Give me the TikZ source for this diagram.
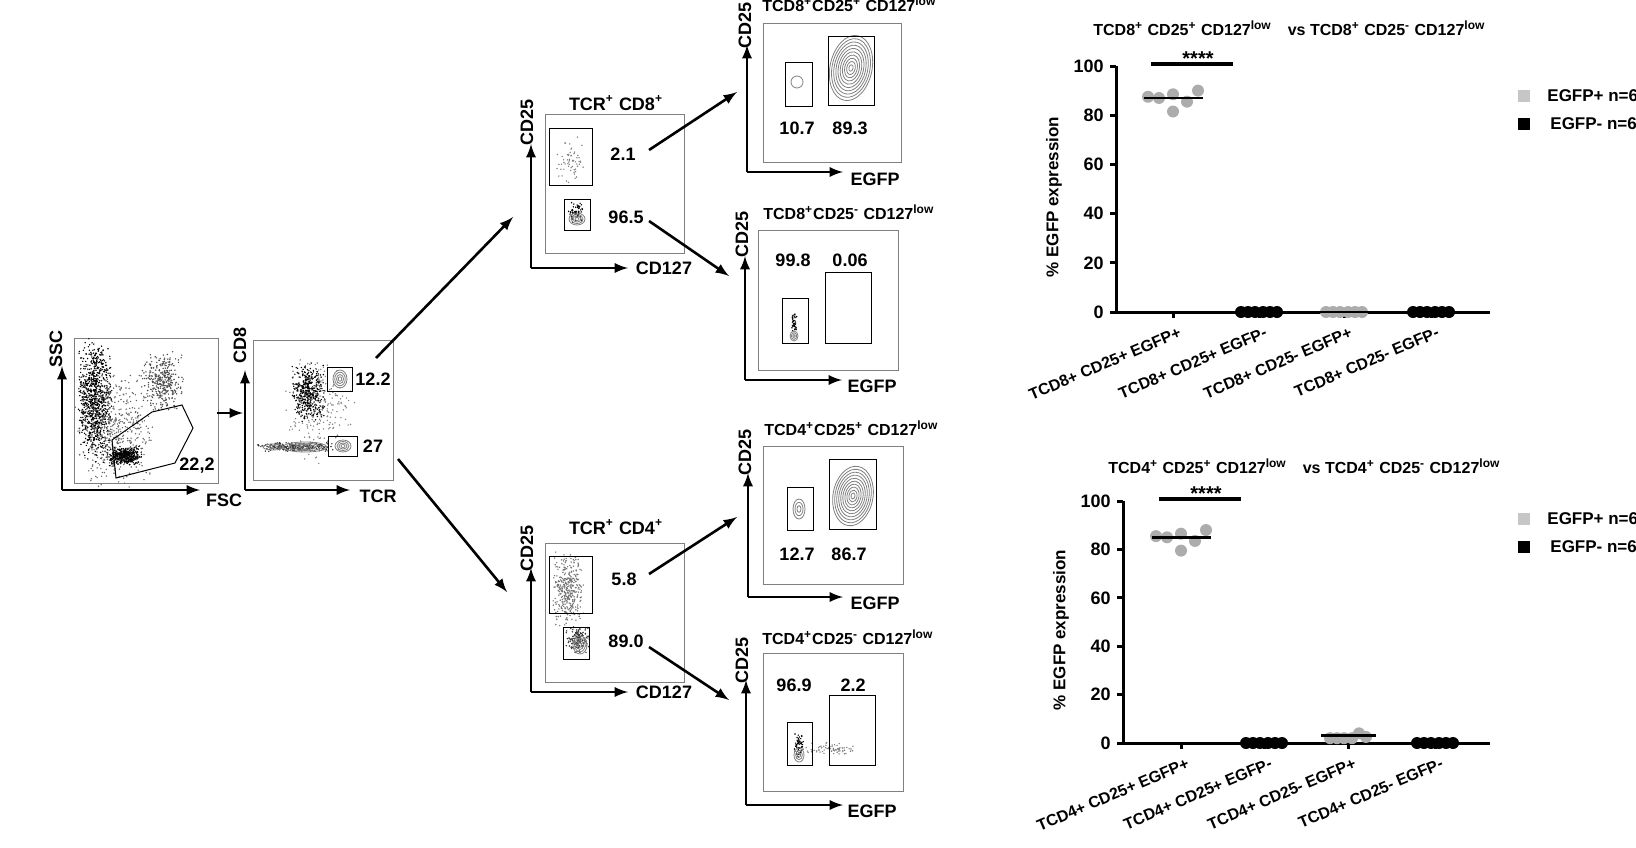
\documentclass[tikz,border=0pt]{standalone}
\usepackage{fontspec}
\setmainfont{Liberation Sans}
\begin{document}
\begin{tikzpicture}[x=0.5pt,y=-0.5pt,
  lab/.style={font=\bfseries\fontsize{9}{10}\selectfont,inner sep=1pt},
  ttl/.style={font=\bfseries\fontsize{8}{9}\selectfont,inner sep=1pt},
  ax/.style={line width=1.3pt,-latex},
  gate/.style={draw,line width=0.5pt},
  frame/.style={draw,gray,line width=0.5pt},
  flow/.style={line width=1.3pt,-latex},
  cax/.style={line width=1.5pt}]
\useasboundingbox (0,0) rectangle (1636,847);
\pgfmathsetseed{7}
\newcommand{\mycloud}[6]{%
  \foreach \i in {1,...,#5}{%
    \pgfmathsetmacro\dx{#3*(rand+rand)/2}%
    \pgfmathsetmacro\dy{#4*(rand+rand)/2}%
    \fill[#6] ({#1+\dx},{#2+\dy}) circle (0.8);}}
\newcommand{\mycont}[6]{%
  \foreach \s in {1,...,#6}{\draw[gray,line width=0.4pt,rotate around={#3:(#1,#2)}] (#1,#2) ellipse ({#4*\s/#6} and {#5*\s/#6});}}
% ---------- panel 1 SSC/FSC
\draw[frame] (74,338) rectangle (218,483);
\draw[ax] (62,490) -- (62,366);
\draw[ax] (62,490) -- (200,490);
\node[lab,rotate=90] (ssc) at (56,349) {SSC};
\node[lab] (fsc) at (224,500) {FSC};
\mycloud{95}{400}{18}{65}{900}{black}
\mycloud{115}{430}{40}{60}{500}{black!60}
\mycloud{125}{456}{18}{10}{400}{black}
\mycloud{162}{382}{22}{32}{350}{black!70}
\draw[gate] (116,478) -- (112,440) -- (152,412) -- (182,405) -- (193,428) -- (175,463) -- cycle;
\node[lab] (v1) at (197,466) {22,2};
\coordinate (a1s) at (217,413); \coordinate (a1e) at (243,413);
\draw[flow] (a1s) -- (a1e);
% ---------- panel 2 CD8/TCR
\draw[frame] (253,340) rectangle (393,480);
\draw[ax] (245,490) -- (245,370);
\draw[ax] (245,490) -- (350,490);
\node[lab,rotate=90] (cd8) at (240,345) {CD8};
\node[lab] (tcr) at (378,496) {TCR};
\mycloud{308}{392}{18}{30}{450}{black}
\mycloud{320}{410}{40}{55}{200}{black!50}
\mycloud{295}{447}{40}{5}{250}{black!80}
\mycont{305}{447}{0}{22}{5}{4}
\mycont{273}{447}{0}{10}{3}{2}
\mycont{340}{379}{0}{7}{9}{4}
\mycont{343}{446}{0}{8}{6}{4}
\draw[gate] (327,367) rectangle (352,391);
\draw[gate] (328,436) rectangle (357,456);
\node[lab] (v2) at (373,379) {12.2};
\node[lab] (v3) at (373,446) {27};
\coordinate (a2s) at (376,358); \coordinate (a2e) at (513,217);
\coordinate (a3s) at (398,459); \coordinate (a3e) at (507,592);
\draw[flow] (a2s) -- (a2e);
\draw[flow] (a3s) -- (a3e);
% ---------- panel 3 TCR+CD8+
\draw[frame] (545,114) rectangle (684,253);
\draw[ax] (531,268) -- (531,144);
\draw[ax] (531,268) -- (628,268);
\node[lab,rotate=90] (cd25a) at (527,122) {CD25};
\node[lab] (cd127a) at (664,268) {CD127};
\node[lab] (t3) at (616,103) {TCR\textsuperscript{+} CD8\textsuperscript{+}};
\mycloud{570}{160}{15}{25}{60}{black!50}
\mycloud{576}{212}{8}{12}{60}{black}
\mycont{577}{219}{0}{8}{6}{4}
\draw[gate] (549,128) rectangle (592,185);
\draw[gate] (564,199) rectangle (590,230);
\node[lab] (v4) at (623,154) {2.1};
\node[lab] (v5) at (626,217) {96.5};
\coordinate (a4s) at (649,150); \coordinate (a4e) at (737,92);
\coordinate (a5s) at (649,221); \coordinate (a5e) at (729,276);
\draw[flow] (a4s) -- (a4e);
\draw[flow] (a5s) -- (a5e);
% ---------- panel 4
\draw[frame] (763,23) rectangle (901,162);
\draw[ax] (747,172) -- (747,45);
\draw[ax] (747,172) -- (843,172);
\node[lab,rotate=90] (cd25b) at (745,25) {CD25};
\node[lab] (egfpb) at (875,179) {EGFP};
\node[ttl,anchor=west] (t4) at (760,4) {TCD8\textsuperscript{+}CD25\textsuperscript{+} CD127\textsuperscript{low}};
\mycont{851}{68}{-12}{21}{33}{10}
\draw[gray] (797,82) ellipse (6 and 6);
\draw[gate] (785,62) rectangle (812,106);
\draw[gate] (828,36) rectangle (874,105);
\node[lab] (v6) at (797,128) {10.7};
\node[lab] (v7) at (850,128) {89.3};
% ---------- panel 5
\draw[frame] (758,230) rectangle (898,370);
\draw[ax] (745,380) -- (745,256);
\draw[ax] (745,380) -- (842,380);
\node[lab,rotate=90] (cd25c) at (742,234) {CD25};
\node[lab] (egfpc) at (872,386) {EGFP};
\node[ttl,anchor=west] (t5) at (761,212) {TCD8\textsuperscript{+}CD25\textsuperscript{-} CD127\textsuperscript{low}};
\mycloud{794}{322}{3}{10}{40}{black}
\mycont{794}{336}{0}{4}{5}{3}
\draw[gate] (782,298) rectangle (808,343);
\draw[gate] (825,272) rectangle (871,343);
\node[lab] (v8) at (793,260) {99.8};
\node[lab] (v9) at (850,260) {0.06};
% ---------- panel TCR+CD4+
\draw[frame] (545,543) rectangle (684,682);
\draw[ax] (531,692) -- (531,568);
\draw[ax] (531,692) -- (628,692);
\node[lab,rotate=90] (cd25d) at (527,548) {CD25};
\node[lab] (cd127d) at (664,692) {CD127};
\node[lab] (t6) at (616,527) {TCR\textsuperscript{+} CD4\textsuperscript{+}};
\mycloud{568}{590}{16}{40}{350}{black!55}
\mycloud{578}{640}{12}{14}{150}{black!80}
\mycont{580}{645}{0}{7}{9}{4}
\draw[gate] (549,556) rectangle (592,613);
\draw[gate] (563,627) rectangle (589,659);
\node[lab] (v10) at (624,579) {5.8};
\node[lab] (v11) at (626,641) {89.0};
\coordinate (a6s) at (649,574); \coordinate (a6e) at (737,517);
\coordinate (a7s) at (649,647); \coordinate (a7e) at (729,700);
\draw[flow] (a6s) -- (a6e);
\draw[flow] (a7s) -- (a7e);
% ---------- panel 6
\draw[frame] (763,446) rectangle (903,584);
\draw[ax] (748,597) -- (748,473);
\draw[ax] (748,597) -- (843,597);
\node[lab,rotate=90] (cd25e) at (745,452) {CD25};
\node[lab] (egfpe) at (875,603) {EGFP};
\node[ttl,anchor=west] (t7) at (762,428) {TCD4\textsuperscript{+}CD25\textsuperscript{+} CD127\textsuperscript{low}};
\mycont{853}{496}{-10}{20}{30}{10}
\mycont{799}{509}{0}{6}{10}{3}
\draw[gate] (787,487) rectangle (813,530);
\draw[gate] (829,459) rectangle (876,529);
\node[lab] (v12) at (797,554) {12.7};
\node[lab] (v13) at (849,554) {86.7};
% ---------- panel 7
\draw[frame] (763,653) rectangle (903,791);
\draw[ax] (746,805) -- (746,680);
\draw[ax] (746,805) -- (843,805);
\node[lab,rotate=90] (cd25f) at (742,660) {CD25};
\node[lab] (egfpf) at (872,811) {EGFP};
\node[ttl,anchor=west] (t8) at (760,637) {TCD4\textsuperscript{+}CD25\textsuperscript{-} CD127\textsuperscript{low}};
\mycloud{799}{745}{5}{12}{60}{black}
\mycloud{830}{749}{28}{7}{70}{black!50}
\mycont{799}{755}{0}{5}{7}{3}
\draw[gate] (787,722) rectangle (812,765);
\draw[gate] (829,695) rectangle (875,765);
\node[lab] (v14) at (794,685) {96.9};
\node[lab] (v15) at (853,685) {2.2};
% ---------- charts
\foreach \ax/\base/\top/\ttlY/\nm/\ga/\gc/\lg/\gA/\gb/\gcx/\gd/\ttx in
  {1116/312/66/28/8/87/0/96/1173/1259/1344/1431/1091, 1123/743/501/466/4/85/3/519/1181/1264/1348/1435/1106}{
  \pgfmathsetmacro\k{(\base-\top)/100}
  \draw[cax] (\ax,\base) -- (\ax,\top);
  \draw[cax] (\ax-6,\base) -- (1490,\base);
  \foreach \v in {0,20,...,100}{
    \draw[cax] (\ax-6,{\base-\v*\k}) -- (\ax,{\base-\v*\k});
    \node[lab,anchor=east] at (\ax-10,{\base-\v*\k}) {\v};}
  \foreach \x in {\gA,\gb,\gcx,\gd}{\draw[cax] (\x,\base) -- (\x,\base+6);}
  \node[lab,rotate=90,font=\bfseries\fontsize{8.5}{9}\selectfont] at (\ax-62,{(\base+\top)/2+8}) {\% EGFP expression};
  \node[ttl,anchor=west] at (\ttx,\ttlY) {TCD\nm\textsuperscript{+} CD25\textsuperscript{+} CD127\textsuperscript{low}\quad vs TCD\nm\textsuperscript{+} CD25\textsuperscript{-} CD127\textsuperscript{low}};
  \foreach \dx/\dv in {-25/0.5,-14/0,0/-5.5,0/1.5,14/-1.5,25/3}{
    \fill[gray!65] ({\gA+\dx},{\base-(\ga+\dv)*\k}) circle (6);}
  \foreach \dx/\dv in {-18/0,-11/0,-4/0,4/0,11/2,18/0.5}{
    \fill[black] ({\gb+\dx},{\base}) circle (6);
    \fill[gray!65] ({\gcx+\dx},{\base-max(0,\gc+(\gc>0)*(\dv-1))*\k}) circle (6);
    \fill[black] ({\gd+\dx},{\base}) circle (6);}
  \draw[line width=1.3pt] (\gA-29,{\base-\ga*\k}) -- (\gA+30,{\base-\ga*\k});
  \draw[line width=1.3pt] (\gcx-27,{\base-\gc*\k}) -- (\gcx+28,{\base-\gc*\k});
  \draw[line width=1.6pt] (\gA-22,\top-2) -- (\gA+60,\top-2);
  \node[lab,font=\bfseries\fontsize{10}{10}\selectfont] at (\gA+25,\top-7) {****};
  \foreach \x/\txt in {\gA/CD25+ EGFP+,\gb/CD25+ EGFP-,\gcx/CD25- EGFP+,\gd/CD25- EGFP-}{
    \node[rotate=23,anchor=north east,inner sep=0pt,font=\bfseries\fontsize{8}{9}\selectfont] at (\x+5,\base+14) {TCD\nm+ \txt};}
  \fill[gray!45] (1518,\lg-6) rectangle (1530,\lg+6);
  \node[anchor=west,inner sep=0pt,font=\bfseries\fontsize{8.5}{9}\selectfont] at (1547,\lg) {EGFP+ n=6};
  \fill[black] (1518,\lg+22) rectangle (1530,\lg+34);
  \node[anchor=west,inner sep=0pt,font=\bfseries\fontsize{8.5}{9}\selectfont] at (1550,\lg+28) {EGFP- n=6};
}
\end{tikzpicture}
\end{document}
